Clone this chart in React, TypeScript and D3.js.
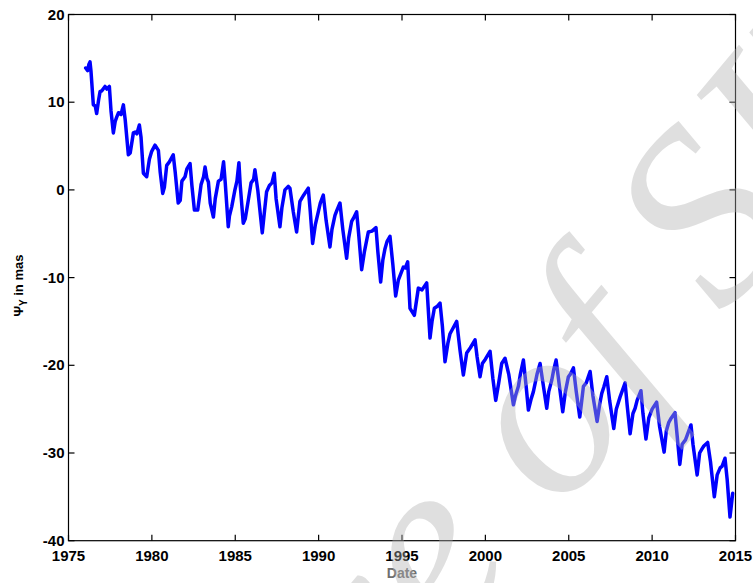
import * as d3 from "d3";

const W = 753;
const H = 583;
const M = { left: 68.5, right: 17.5, top: 14.5, bottom: 42.3 };

// decimal years and Psi_Y values (mas)
const years = [
  1976.03, 1976.15, 1976.22, 1976.29, 1976.35, 1976.49, 1976.6, 1976.69, 1976.8, 1976.89,
  1977.0, 1977.19, 1977.3, 1977.45, 1977.55, 1977.69, 1977.8, 1977.89, 1978.0, 1978.15,
  1978.29, 1978.4, 1978.59, 1978.7, 1978.89, 1979.0, 1979.1, 1979.25, 1979.35, 1979.49,
  1979.69, 1979.85, 1979.99, 1980.19, 1980.39, 1980.5, 1980.65, 1980.75, 1980.89, 1981.05,
  1981.28, 1981.4, 1981.58, 1981.7, 1981.8, 1981.99, 1982.1, 1982.29, 1982.4, 1982.55,
  1982.75, 1982.95, 1983.1, 1983.19, 1983.3, 1983.39, 1983.5, 1983.69, 1983.8, 1983.99,
  1984.15, 1984.3, 1984.4, 1984.58, 1984.65, 1984.79, 1984.98, 1985.1, 1985.22, 1985.3,
  1985.48, 1985.6, 1985.78, 1985.95, 1986.1, 1986.18, 1986.35, 1986.62, 1986.75, 1986.88,
  1987.05, 1987.2, 1987.34, 1987.45, 1987.68, 1987.8, 1987.98, 1988.18, 1988.28, 1988.48,
  1988.68, 1988.88, 1989.1, 1989.38, 1989.5, 1989.64, 1989.8, 1989.98, 1990.1, 1990.28,
  1990.45, 1990.68, 1990.8, 1990.98, 1991.1, 1991.28, 1991.45, 1991.68, 1991.8, 1991.98,
  1992.1, 1992.28, 1992.4, 1992.58, 1992.75, 1992.98, 1993.2, 1993.44, 1993.55, 1993.72,
  1993.85, 1993.98, 1994.1, 1994.28, 1994.45, 1994.62, 1994.78, 1995.08, 1995.2, 1995.34,
  1995.48, 1995.74, 1995.98, 1996.2, 1996.48, 1996.68, 1996.8, 1996.94, 1997.1, 1997.28,
  1997.42, 1997.58, 1997.75, 1997.88, 1998.05, 1998.28, 1998.48, 1998.68, 1998.88, 1999.1,
  1999.38, 1999.5, 1999.68, 1999.82, 2000.0, 2000.28, 2000.45, 2000.62, 2000.8, 2000.98,
  2001.18, 2001.4, 2001.68, 2001.8, 2001.98, 2002.1, 2002.28, 2002.45, 2002.58, 2002.75,
  2002.88, 2003.1, 2003.28, 2003.45, 2003.68, 2003.8, 2003.98, 2004.1, 2004.24, 2004.45,
  2004.64, 2004.8, 2004.98, 2005.1, 2005.28, 2005.45, 2005.66, 2005.75, 2005.88, 2006.05,
  2006.28, 2006.45, 2006.7, 2006.85, 2006.98, 2007.1, 2007.28, 2007.45, 2007.7, 2007.85,
  2008.08, 2008.38, 2008.5, 2008.68, 2008.85, 2008.98, 2009.1, 2009.33, 2009.45, 2009.63,
  2009.8, 2010.0, 2010.27, 2010.45, 2010.72, 2010.85, 2011.0, 2011.15, 2011.37, 2011.5,
  2011.66, 2011.8, 2012.0, 2012.1, 2012.33, 2012.45, 2012.7, 2012.85, 2013.0, 2013.1,
  2013.33, 2013.5, 2013.73, 2013.9, 2014.08, 2014.2, 2014.37, 2014.5, 2014.67, 2014.75,
  2014.83,
];

const psiY = [
  13.9, 13.6, 14.3, 14.6, 13.5, 9.7, 9.6, 8.7, 10.2, 11.2,
  11.3, 11.8, 11.5, 11.8, 9.0, 6.5, 7.8, 8.3, 8.8, 8.6,
  9.7, 8.0, 4.0, 4.2, 6.5, 6.6, 6.4, 7.4, 6.0, 1.9,
  1.5, 3.5, 4.4, 5.1, 4.5, 2.0, -0.4, 0.3, 2.8, 3.2,
  4.0, 2.0, -1.5, -1.2, 1.0, 1.5, 2.4, 3.0, 0.5, -2.3,
  -2.3, 0.6, 1.5, 2.6, 1.3, 0.9, -1.5, -3.1, -1.0, 1.0,
  1.2, 3.2, 0.8, -4.2, -3.0, -1.9, 0.0, 1.0, 3.1, 0.5,
  -3.8, -3.3, -1.2, 0.8, 1.2, 2.3, 0.0, -4.9, -2.5, -0.2,
  0.5, 0.8, 1.9, -1.0, -4.2, -2.0, 0.0, 0.4, 0.2, -2.5,
  -4.8, -1.3, -0.6, 0.2, -2.5, -6.1, -4.0, -2.5, -1.5, -0.6,
  -3.5, -6.5, -4.5, -2.9, -2.3, -1.5, -4.5, -7.8, -5.5, -3.6,
  -3.2, -2.5, -5.0, -9.1, -7.0, -4.8, -4.7, -4.3, -7.0, -10.5,
  -8.0, -6.7, -5.9, -5.3, -8.5, -12.1, -10.3, -8.8, -8.9, -8.2,
  -13.5, -14.3, -11.2, -11.4, -10.6, -16.9, -15.0, -13.5, -13.3, -12.9,
  -15.5, -19.6, -17.5, -16.4, -15.8, -15.0, -18.3, -21.1, -18.6, -18.0,
  -17.1, -19.0, -21.3, -19.8, -19.3, -18.4, -21.5, -24.0, -22.0, -19.8,
  -19.2, -21.0, -24.5, -23.5, -22.4, -21.0, -19.4, -22.5, -25.1, -23.8,
  -23.0, -21.0, -19.8, -22.0, -24.9, -23.0, -21.7, -20.5, -19.4, -22.5,
  -25.3, -23.0, -21.3, -21.0, -20.3, -23.0, -25.9, -24.5, -22.4, -22.0,
  -20.7, -23.5, -26.4, -24.5, -23.2, -22.5, -21.3, -24.0, -27.2, -25.0,
  -23.6, -22.0, -24.5, -27.8, -25.5, -24.9, -24.0, -22.9, -25.5, -28.4,
  -26.0, -25.0, -24.2, -27.0, -29.9, -27.5, -26.5, -26.0, -25.4, -28.0,
  -31.3, -29.0, -28.5, -28.0, -26.8, -29.0, -32.5, -30.0, -29.5, -29.2,
  -28.8, -31.0, -35.0, -32.5, -31.7, -31.5, -30.6, -33.0, -37.3, -36.0,
  -34.6,
];

const xTicks = [1975, 1980, 1985, 1990, 1995, 2000, 2005, 2010, 2015];
const yTicks = [20, 10, 0, -10, -20, -30, -40];

const FONT = "'Liberation Sans', Arial, Helvetica, sans-serif";

export default function App() {
  const x = d3.scaleLinear().domain([1975, 2015]).range([M.left, W - M.right]);
  const y = d3.scaleLinear().domain([-40, 20]).range([H - M.bottom, M.top]);
  const pts = years.map((t, i) => [t, psiY[i]] as [number, number]);
  const line = d3
    .line<[number, number]>()
    .x((d) => x(d[0]))
    .y((d) => y(d[1]));

  const x0 = M.left;
  const x1 = W - M.right;
  const y0 = H - M.bottom;
  const y1 = M.top;
  const tl = 6;

  return (
    <svg width={W} height={H} style={{ display: "block", position: "absolute", left: 0, top: 0 }}>
      <rect width={W} height={H} fill="#fff" />
      <path d={line(pts) || ""} fill="none" stroke="#0000ff" strokeWidth={3.5} strokeLinejoin="round" strokeLinecap="round" />

      <g stroke="#000" strokeWidth={1.2}>
        <rect x={x0} y={y1} width={x1 - x0} height={y0 - y1} fill="none" />
        {xTicks.map((t) => (
          <g key={`xt${t}`}>
            <line x1={x(t)} x2={x(t)} y1={y0} y2={y0 - tl} />
            <line x1={x(t)} x2={x(t)} y1={y1} y2={y1 + tl} />
          </g>
        ))}
        {yTicks.map((t) => (
          <g key={`yt${t}`}>
            <line x1={x0} x2={x0 + tl} y1={y(t)} y2={y(t)} />
            <line x1={x1} x2={x1 - tl} y1={y(t)} y2={y(t)} />
          </g>
        ))}
      </g>

      <g fontFamily={FONT} fontWeight="bold" fontSize={15} fill="#000">
        {xTicks.map((t) => (
          <text key={`xl${t}`} x={x(t)} y={y0 + 20} textAnchor="middle">
            {t}
          </text>
        ))}
        {yTicks.map((t) => (
          <text key={`yl${t}`} x={x0 - 4} y={y(t) + 5} textAnchor="end">
            {t}
          </text>
        ))}
      </g>

      <text x={(x0 + x1) / 2} y={578} textAnchor="middle" fontFamily={FONT} fontWeight="bold" fontSize={14} fill="#6e6e6e">
        Date
      </text>
      <text
        transform={`translate(23 ${(y0 + y1) / 2 + 8}) rotate(-90)`}
        textAnchor="middle"
        fontFamily={FONT}
        fontWeight="bold"
        fontSize={13}
        fill="#000"
      >
        Ψ<tspan fontSize={10} dy={4}>Y</tspan>
        <tspan dy={-4}> in mas</tspan>
      </text>

      <text
        transform="translate(25 1150) rotate(-50)"
        fontFamily="'Liberation Serif', 'DejaVu Serif', serif"
        fontStyle="italic"
        fontSize={250}
        fill="#b0b0b0"
        opacity={0.4}
      >
        Archive of SID
      </text>
    </svg>
  );
}
